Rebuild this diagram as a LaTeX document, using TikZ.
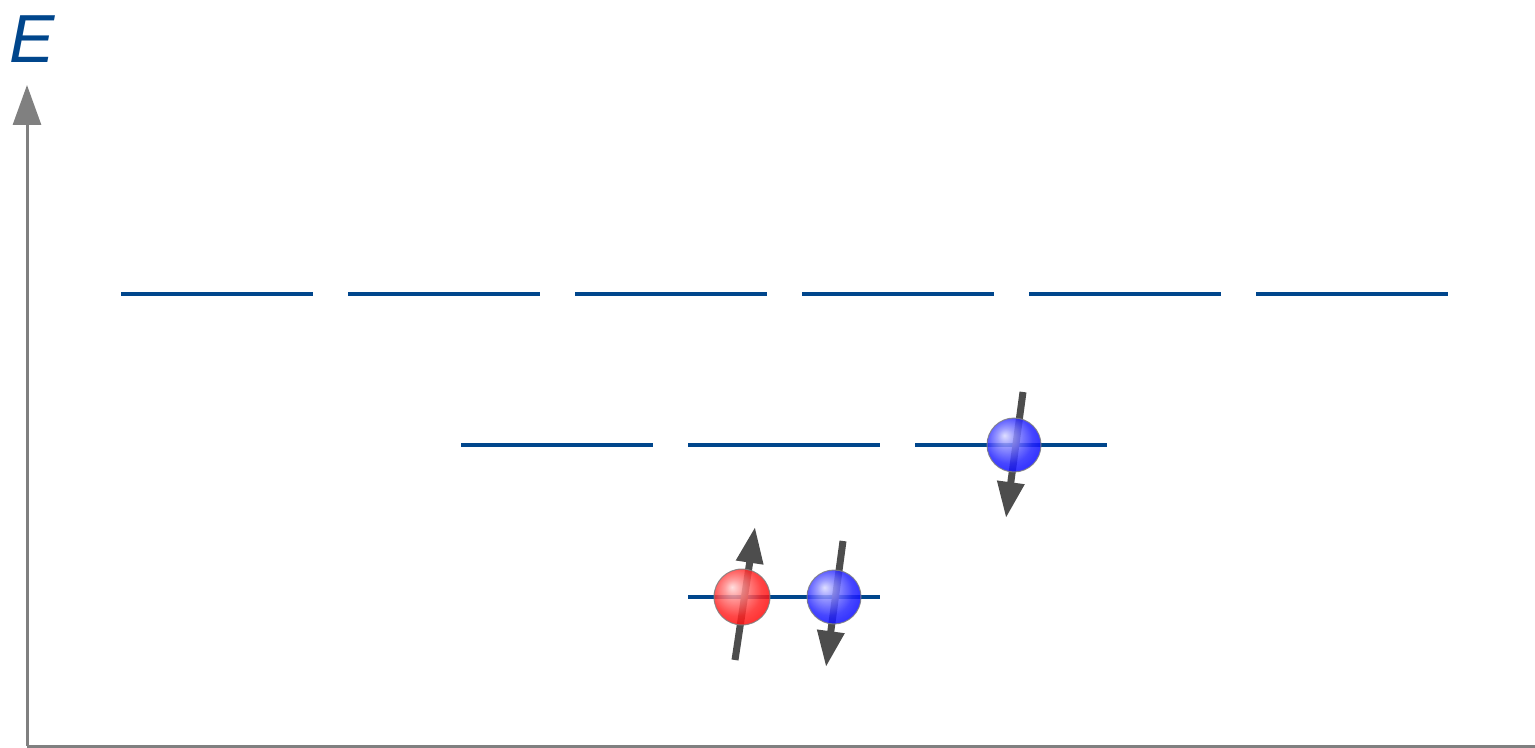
\documentclass[tikz,border=0pt]{standalone}
\usepackage{fontspec}
\setsansfont{Liberation Sans}
\usetikzlibrary{arrows.meta}

\definecolor{levelblue}{RGB}{0,70,140}
\definecolor{axisgray}{RGB}{128,128,128}
\definecolor{spingray}{RGB}{77,77,77}

% Electron shadings, highlight at upper left
\pgfdeclareradialshading{redball}{\pgfpoint{-9bp}{9bp}}{%
  color(0bp)=(red!15!white); color(8bp)=(red!45!white);
  color(22bp)=(red!85!white); color(34bp)=(red); color(50bp)=(red)}
\pgfdeclareradialshading{blueball}{\pgfpoint{-9bp}{9bp}}{%
  color(0bp)=(blue!15!white); color(8bp)=(blue!45!white);
  color(22bp)=(blue!85!white); color(34bp)=(blue); color(50bp)=(blue)}

\tikzset{
  level/.style={draw=levelblue, line width=1.75pt},
  axis/.style={draw=axisgray, line width=1.5pt},
  spin/.style={draw=spingray, line width=3.5pt, -{Triangle[width=13pt,length=18pt]}},
  electron/.style={shading=#1, opacity=0.85, draw=gray, line width=0.5pt},
}

\begin{document}
\begin{tikzpicture}[x=0.5pt, y=-0.5pt]

\useasboundingbox (0,0) rectangle (1535,748);

% Axis
\coordinate (O) at (27,746);
\coordinate (Etop) at (27,85);
\coordinate (Xend) at (1535,746);
\draw[axis, -{Triangle[width=14pt,length=20pt]}] (O) -- (Etop);
\draw[axis] (O) -- (Xend);
\node[text=levelblue, font=\sffamily\itshape\fontsize{34}{34}\selectfont] (Elabel) at (32,39) {E};

% Upper levels
\foreach \i in {0,...,5}
  \draw[level] (121+227*\i,294) -- ++(192,0);

% Middle levels
\foreach \i in {0,1,2}
  \draw[level] (461+227*\i,445) -- ++(192,0);

% Lowest level
\draw[level] (688,597) -- (880,597);

% Spins
\draw[spin] (735,660) -- (755,527);
\draw[spin] (843,541) -- (826,667);
\draw[spin] (1023,392) -- (1006,518);

% Electrons
\shade[electron=redball] (742,597) circle (28);
\shade[electron=blueball] (834,597) circle (27);
\shade[electron=blueball] (1014,445) circle (27);

\end{tikzpicture}
\end{document}
